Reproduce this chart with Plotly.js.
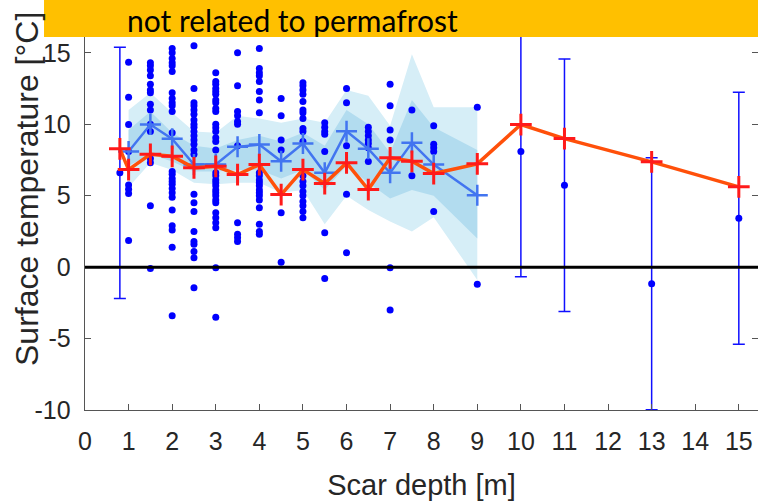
<!DOCTYPE html>
<html>
<head>
<meta charset="utf-8">
<script src="https://cdn.plot.ly/plotly-3.0.1.min.js"></script>
<style>html,body{margin:0;padding:0;background:#fff;}#chart{width:758px;height:502px;}</style>
</head>
<body>
<div id="chart"></div>
<script>
// ---- data ----
const groupDepths = [1, 1.5, 2, 2.5, 3, 3.5, 4, 4.5, 5, 5.5, 6, 6.5, 7, 7.5, 8, 9];
const groupMean   = [8.1, 9.98, 8.98, 7.18, 7.18, 8.42, 8.58, 7.41, 8.65, 6.6, 9.51, 8.28, 6.6, 8.7, 7.18, 5.03];
const outerUpper  = [11.0, 12.2, 10.8, 9.5, 9.4, 10.6, 10.4, 10.1, 10.4, 10.1, 12.4, 12.0, 9.9, 14.9, 11.2, 11.2];
const innerUpper  = [9.6, 10.9, 9.4, 8.5, 8.3, 8.9, 9.2, 8.8, 9.4, 8.5, 11.0, 10.0, 8.0, 11.7, 9.8, 8.2];
const innerLower  = [7.1, 7.9, 7.4, 6.7, 6.7, 6.8, 6.8, 6.2, 6.8, 5.4, 7.1, 5.9, 4.8, 5.4, 5.0, 2.0];
const outerLower  = [5.6, 7.3, 6.8, 5.9, 5.8, 5.9, 5.9, 5.2, 5.4, 3.0, 5.0, 4.0, 3.2, 2.5, 3.5, -0.9];

const dotsByGroup = [
  [14.34, 11.9, 9.98, 8.1, 5.75, 5.45, 5.15, 1.87],
  [14.3, 14.1, 13.8, 13.4, 12.8, 12.4, 12.2, 11.4, 11.0, 10.0, 9.5, 7.6, 7.3, 4.3, -0.1],
  [15.3, 15.0, 14.6, 14.3, 14.1, 13.7, 12.2, 11.8, 11.5, 11.3, 10.9, 9.4, 6.7, 6.5, 6.2, 6.0, 5.8, 5.5, 5.2, 4.9, 4.0, 2.9, 2.6, 1.4, -3.4],
  [15.5, 12.5, 11.5, 11.3, 11.0, 10.7, 10.3, 10.0, 9.8, 9.5, 9.2, 8.9, 8.6, 8.2, 7.9, 5.1, 4.5, 3.9, 2.5, 1.8, 1.6, 1.1, 0.65, -1.45],
  [13.6, 13.0, 12.8, 12.5, 12.3, 12.1, 11.7, 11.5, 11.1, 10.9, 10.0, 9.75, 9.5, 9.05, 8.8, 8.2, 6.6, 6.4, 6.1, 5.9, 5.7, 5.4, 5.2, 5.0, 4.7, 4.5, 3.8, 3.45, 3.1, 2.75, -0.05, -3.5],
  [15.0, 12.7, 10.9, 10.6, 10.2, 10.0, 8.5, 3.1, 2.3, 2.05, 1.8],
  [15.3, 13.9, 13.6, 13.4, 13.0, 12.3, 11.7, 10.8, 6.6, 6.4, 6.1, 5.9, 5.7, 5.4, 5.2, 5.0, 4.7, 4.15, 3.0, 2.5, 2.3],
  [11.8, 10.6, 8.9, 8.2, 3.8, 0.35],
  [12.9, 12.7, 12.4, 12.1, 11.6, 11.0, 10.8, 10.4, 9.7, 9.5, 8.8, 6.4, 6.0, 5.7, 5.3, 5.0, 4.6, 4.3, 3.9, 3.45],
  [10.1, 9.8, 9.5, 9.3, 8.1, 2.4, -0.8],
  [12.5, 11.5, 8.5, 5.1, 1.0],
  [9.8, 9.5, 9.2, 8.9, 8.65, 8.35, 7.4],
  [12.8, 11.3, 9.6, 8.9, -0.05, -3.0],
  [11.0, 6.4],
  [9.9, 8.6, 8.35, 8.1, 3.9],
  [11.2, -1.2]
];

const singleDepths = [0.8, 10, 11, 13, 15];
const singleValues = [6.6, 8.1, 5.73, -1.16, 3.43];
const singleSpread = [8.8, 8.77, 8.84, 8.82, 8.82];

const medianDepths = [0.8, 1, 1.5, 2, 2.5, 3, 3.5, 4, 4.5, 5, 5.5, 6, 6.5, 7, 7.5, 8, 9, 10, 11, 13, 15];
const medianValues = [8.28, 6.83, 7.9, 7.76, 6.95, 7.06, 6.48, 7.18, 5.08, 6.83, 5.85, 7.3, 5.43, 7.65, 7.41, 6.55, 7.23, 9.98, 9.0, 7.37, 5.62];

const xTicks = [0,1,2,3,4,5,6,7,8,9,10,11,12,13,14,15];
const yTicks = [-10,-5,0,5,10,15];
const titleText = 'not related to permafrost';
const xTitle = 'Scar depth [m]';
const yTitle = 'Surface temperature [°C]';

// ---- build traces ----
const rev = a => a.slice().reverse();
const dotX = [], dotY = [];
dotsByGroup.forEach((vals, i) => vals.forEach(v => { dotX.push(groupDepths[i]); dotY.push(v); }));

const traces = [
  {x: groupDepths.concat(rev(groupDepths)), y: outerUpper.concat(rev(outerLower)),
   type:'scatter', mode:'lines', fill:'toself', fillcolor:'#d6eef7', line:{width:0}, hoverinfo:'skip', showlegend:false},
  {x: groupDepths.concat(rev(groupDepths)), y: innerUpper.concat(rev(innerLower)),
   type:'scatter', mode:'lines', fill:'toself', fillcolor:'#b2dcef', line:{width:0}, hoverinfo:'skip', showlegend:false},
  {x: dotX, y: dotY, type:'scatter', mode:'markers',
   marker:{color:'#0000ff', size:7}, showlegend:false},
  {x: singleDepths, y: singleValues, type:'scatter', mode:'markers',
   marker:{color:'#0000ff', size:7},
   error_y:{type:'data', array:singleSpread, visible:true, color:'#1010ff', thickness:1.5, width:6},
   showlegend:false},
  {x: groupDepths, y: groupMean, type:'scatter', mode:'lines+markers',
   line:{color:'#4275f0', width:2.5},
   marker:{symbol:'cross-thin', size:15, line:{color:'#4275f0', width:2.5}},
   showlegend:false},
  {x: medianDepths, y: medianValues, type:'scatter', mode:'lines+markers',
   line:{color:'#ff500a', width:3.5},
   marker:{symbol:'cross-thin', size:15.5, line:{color:'#ff1a1a', width:3}},
   showlegend:false}
];

const axisFont = {family:'Liberation Sans, Arial, sans-serif', size:25, color:'#262626'};
const layout = {
  width:758, height:502,
  margin:{l:85, r:0, t:30, b:92},
  paper_bgcolor:'#ffffff', plot_bgcolor:'#ffffff',
  showlegend:false,
  xaxis:{range:[0,15.44], tickvals:xTicks, ticktext:xTicks.map(String), ticks:'inside', ticklen:6,
         tickcolor:'#555', showline:true, linecolor:'#555', linewidth:1.3, mirror:'ticks',
         showgrid:false, zeroline:false, tickfont:axisFont, ticklabelstandoff:9,
         title:{text:xTitle, font:{family:'Liberation Sans, Arial, sans-serif', size:29, color:'#262626'}, standoff:20}},
  yaxis:{range:[-10,16.6], tickvals:yTicks, ticktext:yTicks.map(String), ticks:'inside', ticklen:6,
         tickcolor:'#555', showline:true, linecolor:'#555', linewidth:1.3, mirror:'ticks',
         showgrid:false, zeroline:false, tickfont:axisFont, ticklabelstandoff:8},
  shapes:[
    {type:'line', xref:'paper', yref:'y', x0:0, x1:1, y0:0, y1:0, line:{color:'#000', width:3}, layer:'above'},
    {type:'rect', xref:'paper', yref:'paper', x0:-0.0609, x1:1.01, y0:0.9816, y1:1.1, fillcolor:'#ffc000', line:{width:0}, layer:'above'}
  ],
  annotations:[
    {text:titleText, xref:'paper', yref:'paper', x:0.3076, y:1.0789, xanchor:'center', yanchor:'top',
     showarrow:false, font:{family:'Lato, Open Sans, sans-serif', size:30, color:'#000'}},
    {text:yTitle, xref:'paper', yref:'paper', x:-0.0862, y:0.5816, xanchor:'center', yanchor:'middle',
     textangle:-90, showarrow:false, font:{family:'Liberation Sans, Arial, sans-serif', size:32, color:'#262626'}}
  ]
};

Plotly.newPlot('chart', traces, layout, {staticPlot:true, displayModeBar:false});
</script>
</body>
</html>
